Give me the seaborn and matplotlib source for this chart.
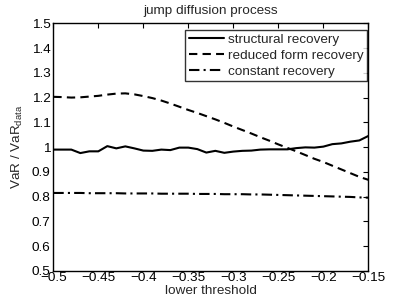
import numpy as np
import pandas as pd
import seaborn as sns
import matplotlib
matplotlib.use("Agg")
import matplotlib.pyplot as plt

# lower threshold grid
thresh = [-0.50, -0.49, -0.48, -0.47, -0.46, -0.45, -0.44, -0.43, -0.42, -0.41,
          -0.40, -0.39, -0.38, -0.37, -0.36, -0.35, -0.34, -0.33, -0.32, -0.31,
          -0.30, -0.29, -0.28, -0.27, -0.26, -0.25, -0.24, -0.23, -0.22, -0.21,
          -0.20, -0.19, -0.18, -0.17, -0.16, -0.15]

structural = [0.990, 0.990, 0.990, 0.976, 0.983, 0.983, 1.004, 0.995, 1.003, 0.995,
              0.986, 0.985, 0.990, 0.988, 0.998, 0.998, 0.992, 0.978, 0.985, 0.977,
              0.982, 0.985, 0.986, 0.990, 0.991, 0.991, 0.991, 0.996, 0.999, 0.998,
              1.002, 1.012, 1.015, 1.022, 1.027, 1.045]

reduced = [1.203, 1.202, 1.200, 1.201, 1.204, 1.207, 1.212, 1.216, 1.217, 1.213,
           1.206, 1.198, 1.188, 1.176, 1.163, 1.150, 1.138, 1.125, 1.112, 1.098,
           1.083, 1.069, 1.055, 1.040, 1.026, 1.011, 0.997, 0.983, 0.968, 0.953,
           0.940, 0.925, 0.910, 0.895, 0.880, 0.868]

constant = [0.815, 0.815, 0.815, 0.815, 0.814, 0.814, 0.814, 0.814, 0.813, 0.813,
            0.813, 0.813, 0.812, 0.812, 0.812, 0.812, 0.811, 0.811, 0.811, 0.810,
            0.810, 0.810, 0.809, 0.809, 0.808, 0.807, 0.806, 0.805, 0.804, 0.803,
            0.802, 0.801, 0.800, 0.799, 0.797, 0.796]

xticks = [-0.5, -0.45, -0.4, -0.35, -0.3, -0.25, -0.2, -0.15]
xticklabels = ["\u22120.5", "\u22120.45", "\u22120.4", "\u22120.35", "\u22120.3",
               "\u22120.25", "\u22120.2", "\u22120.15"]
yticks = [0.5, 0.6, 0.7, 0.8, 0.9, 1.0, 1.1, 1.2, 1.3, 1.4, 1.5]
yticklabels = ["0.5", "0.6", "0.7", "0.8", "0.9", "1", "1.1", "1.2", "1.3", "1.4", "1.5"]

sns.set_style("white")
plt.rcParams["font.family"] = ["Liberation Sans", "DejaVu Sans"]
plt.rcParams["font.size"] = 9.7
plt.rcParams["mathtext.fontset"] = "custom"
plt.rcParams["mathtext.rm"] = "Liberation Sans"
plt.rcParams["mathtext.it"] = "Liberation Sans"

fs = 9.7
fig = plt.figure(figsize=(4.07, 3.06), dpi=100)
ax = fig.add_axes([0.131, 0.1144, 0.774, 0.8096])

sns.lineplot(x=thresh, y=structural, ax=ax, color="black", lw=1.5,
             linestyle="-", label="structural recovery")
sns.lineplot(x=thresh, y=reduced, ax=ax, color="black", lw=1.5,
             linestyle=(0, (4, 2.5)), label="reduced form recovery")
sns.lineplot(x=thresh, y=constant, ax=ax, color="black", lw=1.5,
             linestyle=(0, (5, 2, 1, 2)), label="constant recovery")

ax.set_xlim(-0.5, -0.15)
ax.set_ylim(0.5, 1.5)
ax.set_xticks(xticks)
ax.set_xticklabels(xticklabels)
ax.set_yticks(yticks)
ax.set_yticklabels(yticklabels)
ax.tick_params(direction="in", length=3.5, width=0.8, top=True, right=True,
               labelsize=fs, colors="black", pad=2)
ax.tick_params(axis="x", pad=0.5)
for s in ax.spines.values():
    s.set_color("black")
    s.set_linewidth(1.0)

ax.set_title("jump diffusion process", fontsize=fs, pad=6.5)
ax.set_xlabel("lower threshold", fontsize=fs, labelpad=1)
ax.set_ylabel(r"VaR / VaR$_{\mathrm{data}}$", fontsize=fs, labelpad=5)

leg = ax.legend(loc="upper right", bbox_to_anchor=(0.997, 0.972), fontsize=fs,
                frameon=True, fancybox=False, handlelength=2.6,
                handletextpad=0.35, borderpad=0.25, labelspacing=0.25,
                borderaxespad=0)
leg.get_frame().set_edgecolor("black")
leg.get_frame().set_linewidth(1.0)

fig.savefig("out.png", dpi=100)
